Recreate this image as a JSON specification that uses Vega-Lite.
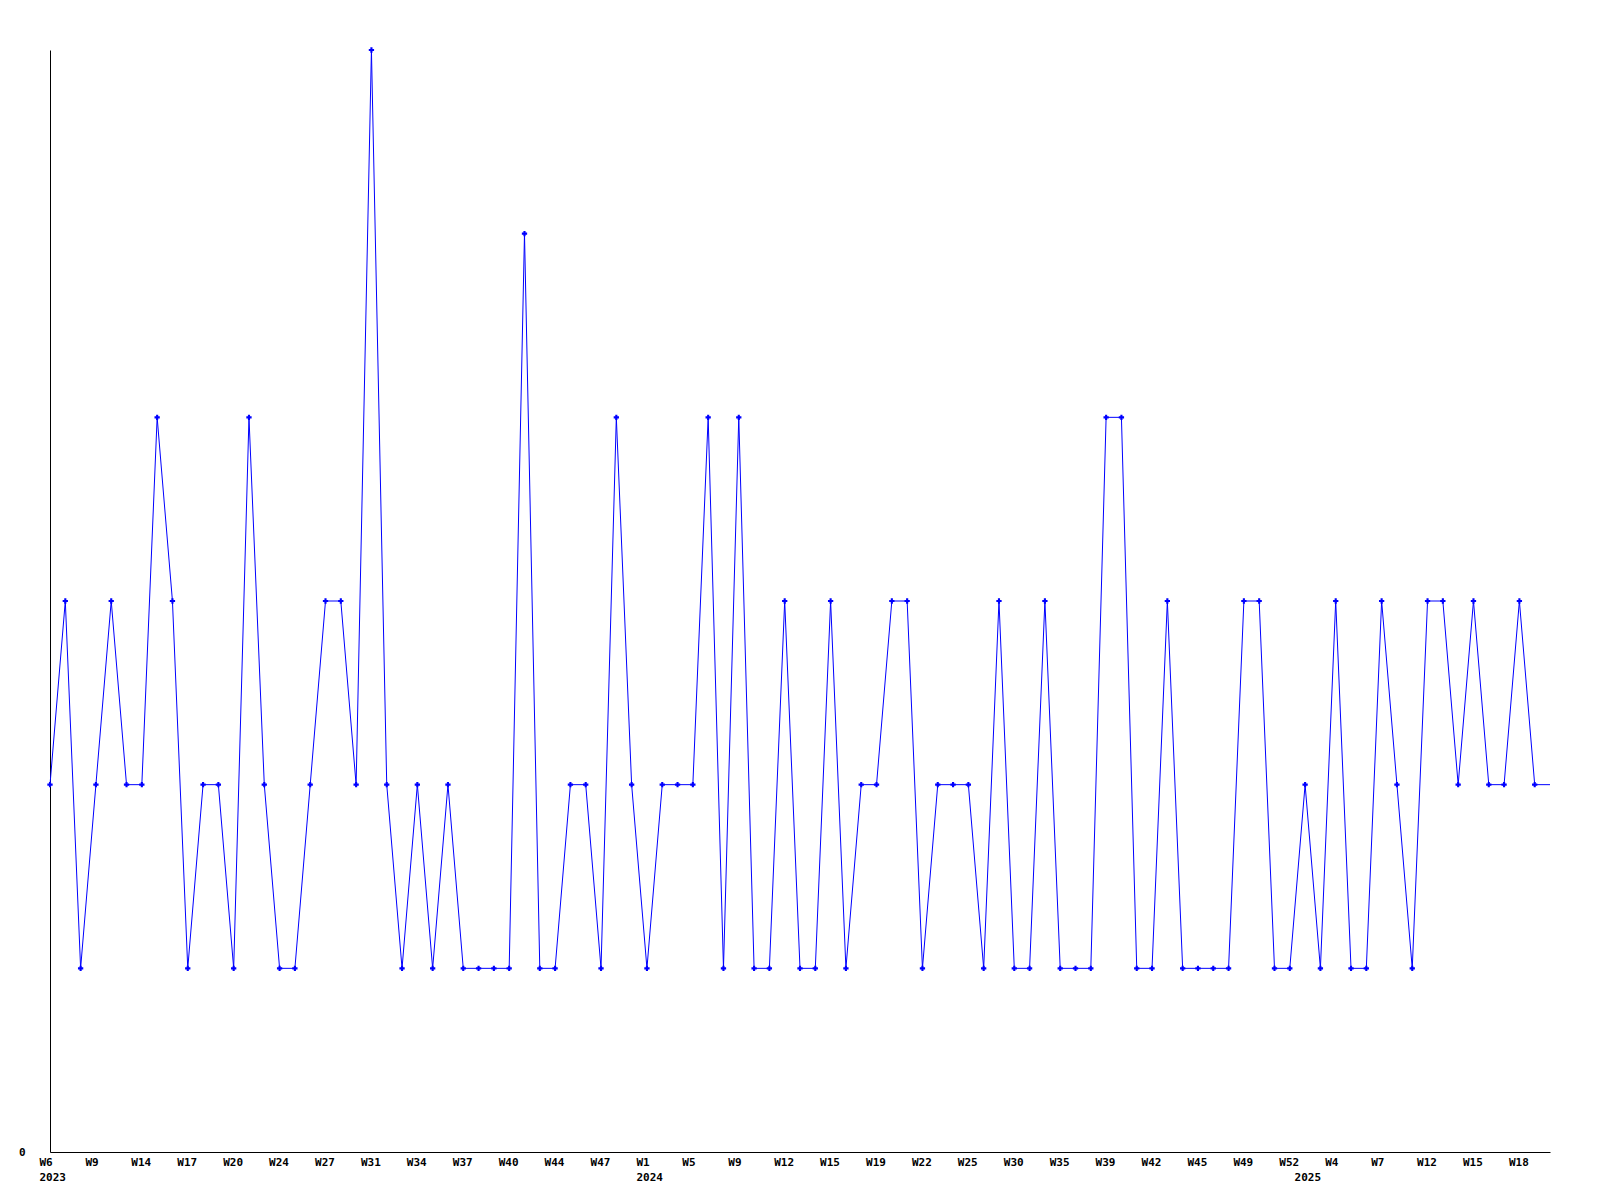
{
  "$schema": "https://vega.github.io/schema/vega-lite/v6.json",
  "autosize": {"type": "none"},
  "padding": {"left": 50, "top": 50, "right": 50, "bottom": 48},
  "width": 1500,
  "height": 1102,
  "background": "white",
  "config": {
    "view": {"stroke": null},
    "axis": {
      "labelFont": "DejaVu Sans Mono",
      "labelFontWeight": "bold",
      "labelFontSize": 11,
      "labelColor": "black",
      "domainColor": "black",
      "domainWidth": 1,
      "ticks": false,
      "tickSize": 0,
      "grid": false,
      "title": null
    }
  },
  "data": {
    "values": [
      {"week": "2023-W06", "n": 2}, {"week": "2023-W07", "n": 3}, {"week": "2023-W08", "n": 1},
      {"week": "2023-W09", "n": 2}, {"week": "2023-W10", "n": 3}, {"week": "2023-W12", "n": 2},
      {"week": "2023-W14", "n": 2}, {"week": "2023-W15", "n": 4}, {"week": "2023-W16", "n": 3},
      {"week": "2023-W17", "n": 1}, {"week": "2023-W18", "n": 2}, {"week": "2023-W19", "n": 2},
      {"week": "2023-W20", "n": 1}, {"week": "2023-W21", "n": 4}, {"week": "2023-W22", "n": 2},
      {"week": "2023-W24", "n": 1}, {"week": "2023-W25", "n": 1}, {"week": "2023-W26", "n": 2},
      {"week": "2023-W27", "n": 3}, {"week": "2023-W28", "n": 3}, {"week": "2023-W30", "n": 2},
      {"week": "2023-W31", "n": 6}, {"week": "2023-W32", "n": 2}, {"week": "2023-W33", "n": 1},
      {"week": "2023-W34", "n": 2}, {"week": "2023-W35", "n": 1}, {"week": "2023-W36", "n": 2},
      {"week": "2023-W37", "n": 1}, {"week": "2023-W38", "n": 1}, {"week": "2023-W39", "n": 1},
      {"week": "2023-W40", "n": 1}, {"week": "2023-W41", "n": 5}, {"week": "2023-W43", "n": 1},
      {"week": "2023-W44", "n": 1}, {"week": "2023-W45", "n": 2}, {"week": "2023-W46", "n": 2},
      {"week": "2023-W47", "n": 1}, {"week": "2023-W49", "n": 4}, {"week": "2023-W51", "n": 2},
      {"week": "2024-W01", "n": 1}, {"week": "2024-W02", "n": 2}, {"week": "2024-W03", "n": 2},
      {"week": "2024-W05", "n": 2}, {"week": "2024-W06", "n": 4}, {"week": "2024-W08", "n": 1},
      {"week": "2024-W09", "n": 4}, {"week": "2024-W10", "n": 1}, {"week": "2024-W11", "n": 1},
      {"week": "2024-W12", "n": 3}, {"week": "2024-W13", "n": 1}, {"week": "2024-W14", "n": 1},
      {"week": "2024-W15", "n": 3}, {"week": "2024-W17", "n": 1}, {"week": "2024-W18", "n": 2},
      {"week": "2024-W19", "n": 2}, {"week": "2024-W20", "n": 3}, {"week": "2024-W21", "n": 3},
      {"week": "2024-W22", "n": 1}, {"week": "2024-W23", "n": 2}, {"week": "2024-W24", "n": 2},
      {"week": "2024-W25", "n": 2}, {"week": "2024-W27", "n": 1}, {"week": "2024-W28", "n": 3},
      {"week": "2024-W30", "n": 1}, {"week": "2024-W32", "n": 1}, {"week": "2024-W33", "n": 3},
      {"week": "2024-W35", "n": 1}, {"week": "2024-W36", "n": 1}, {"week": "2024-W38", "n": 1},
      {"week": "2024-W39", "n": 4}, {"week": "2024-W40", "n": 4}, {"week": "2024-W41", "n": 1},
      {"week": "2024-W42", "n": 1}, {"week": "2024-W43", "n": 3}, {"week": "2024-W44", "n": 1},
      {"week": "2024-W45", "n": 1}, {"week": "2024-W46", "n": 1}, {"week": "2024-W48", "n": 1},
      {"week": "2024-W49", "n": 3}, {"week": "2024-W50", "n": 3}, {"week": "2024-W51", "n": 1},
      {"week": "2024-W52", "n": 1}, {"week": "2025-W01", "n": 2}, {"week": "2025-W02", "n": 1},
      {"week": "2025-W04", "n": 3}, {"week": "2025-W05", "n": 1}, {"week": "2025-W06", "n": 1},
      {"week": "2025-W07", "n": 3}, {"week": "2025-W09", "n": 2}, {"week": "2025-W11", "n": 1},
      {"week": "2025-W12", "n": 3}, {"week": "2025-W13", "n": 3}, {"week": "2025-W14", "n": 2},
      {"week": "2025-W15", "n": 3}, {"week": "2025-W16", "n": 2}, {"week": "2025-W17", "n": 2},
      {"week": "2025-W18", "n": 3}, {"week": "2025-W19", "n": 2}, {"week": "2025-W20", "n": 2}
    ]
  },
  "encoding": {
    "x": {
      "field": "week",
      "type": "ordinal",
      "sort": null,
      "scale": {"type": "point", "padding": 0},
      "axis": {
        "values": ["2023-W06", "2023-W09", "2023-W14", "2023-W17", "2023-W20", "2023-W24", "2023-W27", "2023-W31", "2023-W34", "2023-W37", "2023-W40", "2023-W44", "2023-W47", "2024-W01", "2024-W05", "2024-W09", "2024-W12", "2024-W15", "2024-W19", "2024-W22", "2024-W25", "2024-W30", "2024-W35", "2024-W39", "2024-W42", "2024-W45", "2024-W49", "2024-W52", "2025-W01", "2025-W04", "2025-W07", "2025-W12", "2025-W15", "2025-W18"],
        "labelExpr": "datum.value == '2025-W01' ? ['', '2025'] : (datum.value == '2023-W06' || datum.value == '2024-W01') ? ['W' + parseInt(slice(datum.value, 6)), slice(datum.value, 0, 4)] : 'W' + parseInt(slice(datum.value, 6))",
        "labelAngle": 0,
        "labelAlign": "left",
        "labelBaseline": "top",
        "labelOffset": -11,
        "labelPadding": 4,
        "labelLineHeight": 15,
        "labelOverlap": false,
        "labelBound": false,
        "labelFlush": false
      }
    },
    "y": {
      "field": "n",
      "type": "quantitative",
      "scale": {"domain": [0, 6], "nice": false, "zero": true},
      "axis": {"values": [0], "labelPadding": 25, "labelBaseline": "middle"}
    }
  },
  "layer": [
    {"mark": {"type": "line", "color": "#0000ff", "strokeWidth": 1}},
    {
      "transform": [{"filter": "datum.week != '2025-W20'"}],
      "mark": {"type": "point", "shape": "cross", "filled": true, "color": "#0000ff", "size": 28, "opacity": 1}
    }
  ]
}
